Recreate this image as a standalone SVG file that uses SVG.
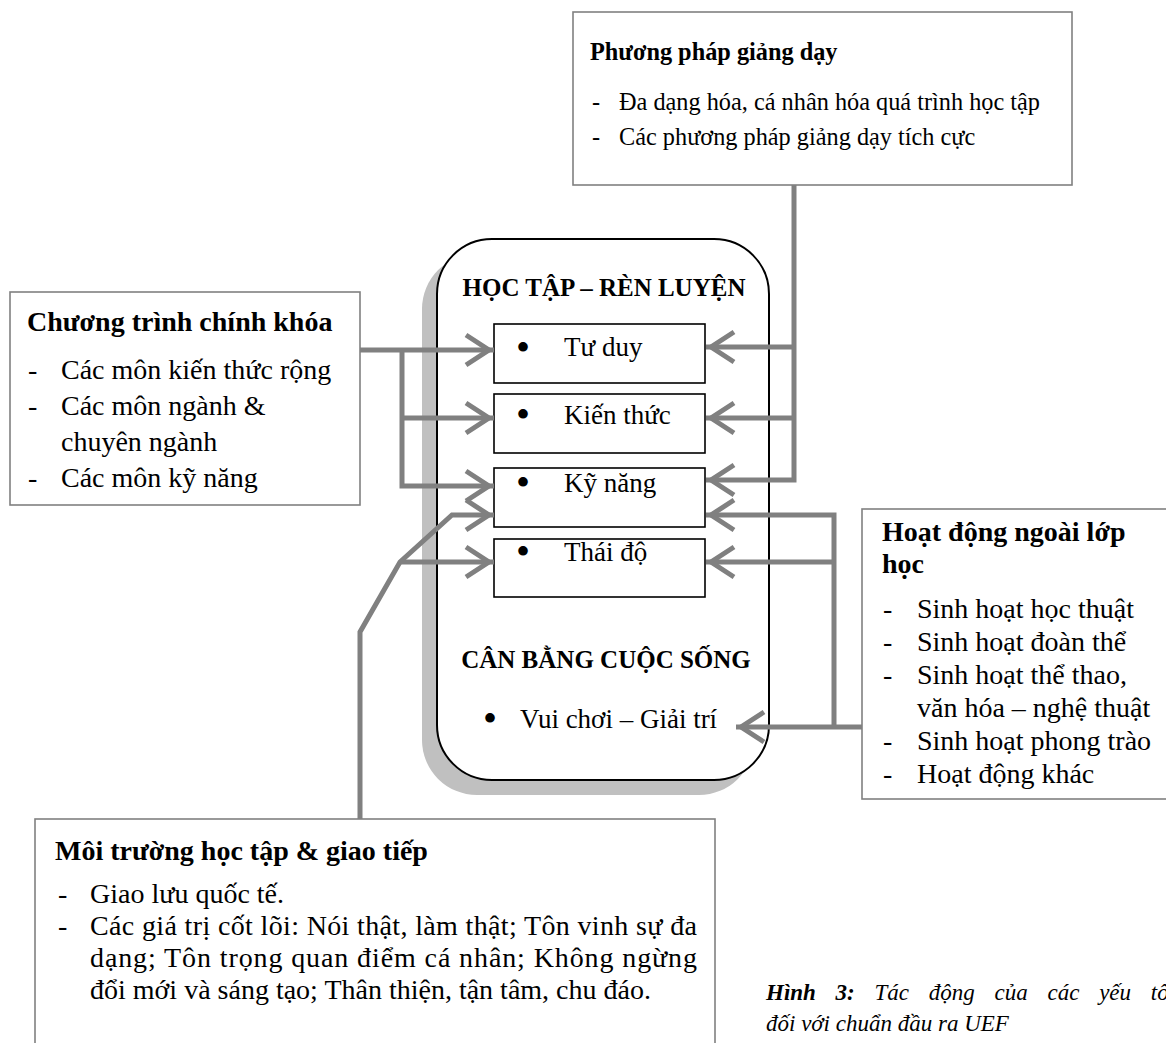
<svg xmlns="http://www.w3.org/2000/svg" width="1166" height="1043" viewBox="0 0 1166 1043">
<style>
  text { font-family: "Liberation Serif", "Times New Roman", serif; fill: #000; }
  .b { font-weight: bold; }
  .f24 { font-size: 24.3px; }
  .f27 { font-size: 27px; }
  .f28 { font-size: 28px; }
  .f25 { font-size: 25px; }
  .bul { font-size: 40px; }
  .box { fill: #fff; stroke: #808080; stroke-width: 1.6; }
  .inner { fill: #fff; stroke: #000; stroke-width: 1.6; }
  .con { fill: none; stroke: #808080; stroke-width: 5; stroke-linejoin: miter; }
  .cap { font-size: 23px; font-style: italic; }
</style>
<defs>
  <marker id="arr" markerUnits="userSpaceOnUse" markerWidth="40" markerHeight="40" viewBox="-30 -20 40 40" refX="0" refY="0" orient="auto" overflow="visible">
    <path d="M-28,-15 L-5,0 L-28,15" fill="none" stroke="#808080" stroke-width="5" stroke-linejoin="miter"/>
  </marker>
</defs>
<rect x="0" y="0" width="1166" height="1043" fill="#fff"/>

<g id="node-hoc-tap-ren-luyen">
  <rect x="422" y="254" width="332" height="541" rx="55" ry="55" fill="#c0c0c0"/>
  <rect x="437" y="239" width="332" height="541" rx="55" ry="55" fill="#fff" stroke="#000" stroke-width="2"/>
  <text class="b f25" x="604" y="296" text-anchor="middle">HỌC TẬP – RÈN LUYỆN</text>
  <text class="b f25" x="606" y="668" text-anchor="middle">CÂN BẰNG CUỘC SỐNG</text>
  <text class="bul" x="483" y="732">•</text>
  <text class="f27" x="520" y="728">Vui chơi – Giải trí</text>
</g>

<g id="node-tu-duy">
  <rect class="inner" x="494" y="324" width="211" height="59"/>
  <text class="bul" x="516" y="361">•</text>
  <text class="f27" x="564" y="356">Tư duy</text>
</g>
<g id="node-kien-thuc">
  <rect class="inner" x="494" y="394" width="211" height="59"/>
  <text class="bul" x="516" y="428">•</text>
  <text class="f27" x="564" y="424">Kiến thức</text>
</g>
<g id="node-ky-nang">
  <rect class="inner" x="494" y="468" width="211" height="59"/>
  <text class="bul" x="516" y="496">•</text>
  <text class="f27" x="564" y="492">Kỹ năng</text>
</g>
<g id="node-thai-do">
  <rect class="inner" x="494" y="539" width="211" height="58"/>
  <text class="bul" x="516" y="565">•</text>
  <text class="f27" x="564" y="561">Thái độ</text>
</g>

<g id="node-phuong-phap-giang-day">
  <rect class="box" x="573" y="12" width="499" height="173"/>
  <text class="b f24" x="590" y="60">Phương pháp giảng dạy</text>
  <text class="f24" x="592" y="110">-</text>
  <text class="f24" x="619" y="110">Đa dạng hóa, cá nhân hóa quá trình học tập</text>
  <text class="f24" x="592" y="145">-</text>
  <text class="f24" x="619" y="145">Các phương pháp giảng dạy tích cực</text>
</g>

<g id="node-chuong-trinh-chinh-khoa">
  <rect class="box" x="10" y="292" width="350" height="213"/>
  <text class="b f28" x="27" y="331">Chương trình chính khóa</text>
  <text class="f28" x="28" y="379">-</text>
  <text class="f28" x="61" y="379">Các môn kiến thức rộng</text>
  <text class="f28" x="28" y="415">-</text>
  <text class="f28" x="61" y="415">Các môn ngành &amp;</text>
  <text class="f28" x="61" y="451">chuyên ngành</text>
  <text class="f28" x="28" y="487">-</text>
  <text class="f28" x="61" y="487">Các môn kỹ năng</text>
</g>

<g id="node-hoat-dong-ngoai-lop-hoc">
  <rect class="box" x="862" y="509" width="320" height="290"/>
  <text class="b f28" x="882" y="541">Hoạt động ngoài lớp</text>
  <text class="b f28" x="882" y="573">học</text>
  <text class="f28" x="883" y="618">-</text>
  <text class="f28" x="917" y="618">Sinh hoạt học thuật</text>
  <text class="f28" x="883" y="651">-</text>
  <text class="f28" x="917" y="651">Sinh hoạt đoàn thể</text>
  <text class="f28" x="883" y="684">-</text>
  <text class="f28" x="917" y="684">Sinh hoạt thể thao,</text>
  <text class="f28" x="917" y="717">văn hóa – nghệ thuật</text>
  <text class="f28" x="883" y="750">-</text>
  <text class="f28" x="917" y="750">Sinh hoạt phong trào</text>
  <text class="f28" x="883" y="783">-</text>
  <text class="f28" x="917" y="783">Hoạt động khác</text>
</g>

<g id="node-moi-truong-hoc-tap">
  <rect class="box" x="35" y="819" width="680" height="240"/>
  <text class="b f28" x="55" y="860">Môi trường học tập &amp; giao tiếp</text>
  <text class="f28" x="58" y="903">-</text>
  <text class="f28" x="90" y="903">Giao lưu quốc tế.</text>
  <text class="f28" x="58" y="935">-</text>
  <text class="f28" x="90" y="935" textLength="607" lengthAdjust="spacing">Các giá trị cốt lõi: Nói thật, làm thật; Tôn vinh sự đa</text>
  <text class="f28" x="90" y="967" textLength="607" lengthAdjust="spacing">dạng; Tôn trọng quan điểm cá nhân; Không ngừng</text>
  <text class="f28" x="90" y="999">đổi mới và sáng tạo; Thân thiện, tận tâm, chu đáo.</text>
</g>

<g id="connectors">
  <path class="con" d="M360,350 H494" marker-end="url(#arr)"/>
  <path class="con" d="M402,350 V486 H494" marker-end="url(#arr)"/>
  <path class="con" d="M402,418 H494" marker-end="url(#arr)"/>
  <path class="con" d="M794,185 V480 H706" marker-end="url(#arr)"/>
  <path class="con" d="M794,347 H706" marker-end="url(#arr)"/>
  <path class="con" d="M794,418 H706" marker-end="url(#arr)"/>
  <path class="con" d="M862,727 H736" marker-end="url(#arr)"/>
  <path class="con" d="M834,727 V515 H706" marker-end="url(#arr)"/>
  <path class="con" d="M834,562 H706" marker-end="url(#arr)"/>
  <path class="con" d="M360,819 V632 L400,562 L452,515 H494" marker-end="url(#arr)"/>
  <path class="con" d="M400,562 H494" marker-end="url(#arr)"/>
</g>

<g id="caption">
  <text class="cap" x="766" y="1000" style="word-spacing:14px"><tspan font-weight="bold">Hình 3:</tspan> Tác động của các yếu tố</text>
  <text class="cap" x="766" y="1031">đối với chuẩn đầu ra UEF</text>
</g>
</svg>
